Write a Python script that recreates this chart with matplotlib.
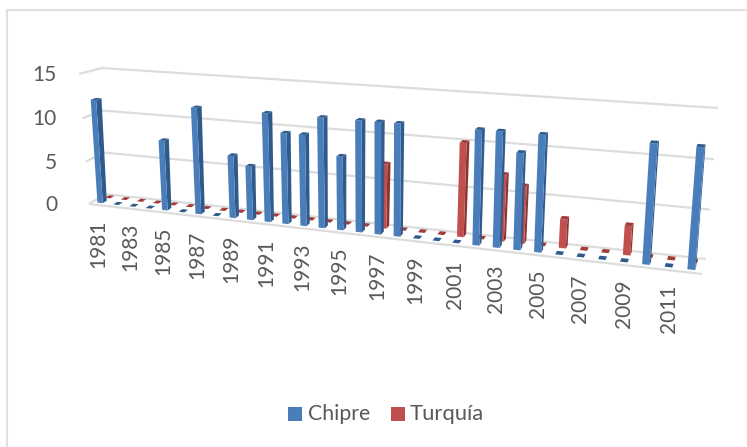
import numpy as np
import matplotlib
matplotlib.use("Agg")
import matplotlib.pyplot as plt
from matplotlib.patches import Polygon, Rectangle

plt.rcParams['font.family'] = ['Lato', 'DejaVu Sans']

years = list(range(1981, 2013))
chipre = [12, 0, 0, 0, 8, 0, 12, 0, 7, 6, 12, 10, 10, 12, 8, 12,
          12, 12, 0, 0, 0, 12, 12, 10, 12, 0, 0, 0, 0, 12, 0, 12]
turquia = [0, 0, 0, 0, 0, 0, 0, 0, 0, 0, 0, 0, 0, 0, 0, 0,
           7, 0, 0, 0, 10, 0, 7, 6, 0, 3, 0, 0, 3, 0, 0, 0]
y_ticks = [0, 5, 10, 15]
x_labels = years[::2]
series_names = ['Chipre', 'Turquía']

VMAX = 15.0
BLUE, BLUE_D, BLUE_T = '#4a7ebb', '#2f5a8c', '#2f5a8c'
RED, RED_D, RED_T = '#c0504d', '#8a3533', '#a33c3a'
GRID = '#dcdcdc'
TXT = '#595959'


def homography(corners):
    src = [(0, 0), (1, 0), (1, VMAX), (0, VMAX)]
    A, b = [], []
    for (u, v), (x, y) in zip(src, corners):
        A.append([u, v, 1, 0, 0, 0, -u * x, -v * x]); b.append(x)
        A.append([0, 0, 0, u, v, 1, -u * y, -v * y]); b.append(y)
    h = np.linalg.solve(np.array(A, float), np.array(b, float))
    return np.append(h, 1).reshape(3, 3)


H_FRONT = homography([(89, 204), (702, 274), (714, 118), (79, 74)])
H_BACK = homography([(105, 194), (706, 259), (718, 108), (102, 68)])


def apply(H, u, v):
    p = H @ np.array([u, v, 1.0])
    return p[:2] / p[2]


def project(u, v, d):
    return (1 - d) * apply(H_FRONT, u, v) + d * apply(H_BACK, u, v)


fig = plt.figure(figsize=(7.47, 4.47), dpi=100, facecolor='white')
ax = fig.add_axes([0, 0, 1, 1])
ax.set_xlim(0, 747)
ax.set_ylim(447, 0)
ax.axis('off')

# chart frame: only the top and left edges are inside the picture
ax.plot([7, 7, 747], [447, 10, 10], color='#e0e0e0', lw=1.5,
        solid_joinstyle='miter', zorder=1)

# gridlines: side stub + back wall line
for v in y_ticks:
    pts = np.array([project(0, v, 1), project(1, v, 1)])
    ax.plot(pts[:, 0], pts[:, 1], color=GRID, lw=1.6, solid_capstyle='butt', zorder=1)
    pts = np.array([project(0, v, 0), project(0, v, 1)])
    ax.plot(pts[:, 0], pts[:, 1], color=GRID, lw=1.6, solid_capstyle='butt', zorder=1)
    p = project(0, v, 0)
    ax.text(57, p[1] + 1, str(v), ha='right', va='center', fontsize=15, color=TXT)
pts = np.array([project(0, 0, 0), project(1, 0, 0)])
ax.plot(pts[:, 0], pts[:, 1], color=GRID, lw=1.6, solid_capstyle='butt', zorder=1)

N = len(years)
HW = 0.17 / N


def bar(i, val, d0, d1, front, side, top, z):
    uc = (i + 0.5) / N
    u0, u1 = uc - HW, uc + HW
    if val > 0:
        ax.add_patch(Polygon([project(u1, 0, d0), project(u1, 0, d1),
                              project(u1, val, d1), project(u1, val, d0)],
                             closed=True, fc=side, ec='none', zorder=z))
        ax.add_patch(Polygon([project(u0, 0, d0), project(u1, 0, d0),
                              project(u1, val, d0), project(u0, val, d0)],
                             closed=True, fc=front, ec='none', zorder=z))
    ax.add_patch(Polygon([project(u0, val, d0), project(u1, val, d0),
                          project(u1, val, d1), project(u0, val, d1)],
                         closed=True, fc=top, ec='none', zorder=z))


for i, val in enumerate(turquia):
    bar(i, val, 0.68, 0.93, RED, RED_D, RED_T, 3)
for i, val in enumerate(chipre):
    bar(i, val, 0.2, 0.45, BLUE, BLUE_D, BLUE_T, 4)

# category labels
for yr in x_labels:
    p = project((years.index(yr) + 0.5) / N, 0, 0)
    ax.text(p[0] + 1.5, p[1] + 14.5, str(yr), rotation=90, ha='center', va='top',
            fontsize=15, color=TXT)

# legend
ax.add_patch(Rectangle((288, 407), 14, 14, fc=BLUE, ec='none'))
ax.text(308, 414, series_names[0], ha='left', va='center', fontsize=15.3, color=TXT)
ax.add_patch(Rectangle((391, 407), 14, 14, fc=RED, ec='none'))
ax.text(410, 414, series_names[1], ha='left', va='center', fontsize=15.8, color=TXT)

fig.savefig('out.png', dpi=100)
